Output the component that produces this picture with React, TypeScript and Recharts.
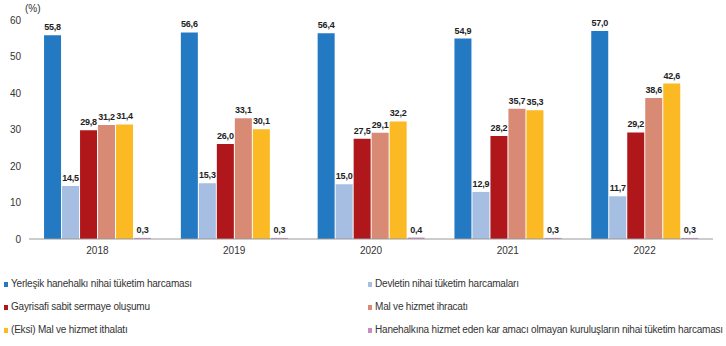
import { BarChart, Bar, XAxis, YAxis, CartesianGrid, LabelList } from "recharts";

const years = ["2018", "2019", "2020", "2021", "2022"];

const yerlesik = [55.8, 56.6, 56.4, 54.9, 57.0];
const devlet = [14.5, 15.3, 15.0, 12.9, 11.7];
const gayrisafi = [29.8, 26.0, 27.5, 28.2, 29.2];
const ihracat = [31.2, 33.1, 29.1, 35.7, 38.6];
const ithalat = [31.4, 30.1, 32.2, 35.3, 42.6];
const hanehalkina = [0.3, 0.3, 0.4, 0.3, 0.3];

const yTicks = [0, 10, 20, 30, 40, 50, 60];

const series = [
  { key: "yerlesik", name: "Yerleşik hanehalkı nihai tüketim harcaması", color: "#2479C3", values: yerlesik },
  { key: "devlet", name: "Devletin nihai tüketim harcamaları", color: "#A5BEE2", values: devlet },
  { key: "gayrisafi", name: "Gayrisafi sabit sermaye oluşumu", color: "#B0171B", values: gayrisafi },
  { key: "ihracat", name: "Mal ve hizmet ihracatı", color: "#D88A74", values: ihracat },
  { key: "ithalat", name: "(Eksi) Mal ve hizmet ithalatı", color: "#FBB923", values: ithalat },
  { key: "hanehalkina", name: "Hanehalkına hizmet eden kar amacı olmayan kuruluşların nihai tüketim harcaması", color: "#C98AC6", values: hanehalkina },
];

const data = years.map((year, i) => {
  const row: Record<string, string | number> = { year };
  series.forEach((s) => {
    row[s.key] = s.values[i];
  });
  return row;
});

const fmt = (v: any) => Number(v).toFixed(1).replace(".", ",");

// legend order: two columns, read row by row
const legendRows = [
  [series[0], series[1]],
  [series[2], series[3]],
  [series[4], series[5]],
];

export default function App() {
  const font = "'Liberation Sans', Arial, sans-serif";
  return (
    <div style={{ position: "absolute", left: 0, top: 0, width: 726, height: 346, background: "#fff", fontFamily: font }}>
      <span style={{ position: "absolute", left: 25, top: 3, fontSize: 10, color: "#333" }}>(%)</span>
      <BarChart
        width={726}
        height={265}
        data={data}
        margin={{ top: 20, right: 13, bottom: 0, left: 0 }}
        barCategoryGap="11%"
        barGap={1}
      >
        <CartesianGrid stroke="none" />
        <XAxis
          dataKey="year"
          height={26}
          tickLine={false}
          axisLine={{ stroke: "#999" }}
          tick={{ fontSize: 10, fill: "#333", fontFamily: font }}
        />
        <YAxis
          width={29}
          domain={[0, 60]}
          ticks={yTicks}
          tickLine={false}
          axisLine={false}
          tick={{ fontSize: 10, fill: "#333", fontFamily: font }}
        />
        {series.map((s) => (
          <Bar key={s.key} dataKey={s.key} name={s.name} fill={s.color} isAnimationActive={false}>
            <LabelList
              dataKey={s.key}
              position="top"
              offset={5}
              formatter={fmt}
              style={{ fontSize: 9, fontWeight: "bold", fill: "#222", fontFamily: font, letterSpacing: -0.2 }}
            />
          </Bar>
        ))}
      </BarChart>
      <div style={{ position: "absolute", left: 0, top: 276, width: 726 }}>
        {legendRows.map((row, ri) => (
          <div key={ri} style={{ position: "relative", height: 23 }}>
            {row.map((s, ci) => (
              <div
                key={s.key}
                style={{
                  position: "absolute",
                  left: ci === 0 ? 4 : 368,
                  top: 0,
                  display: "flex",
                  alignItems: "center",
                  fontSize: 10,
                  letterSpacing: -0.2,
                  color: "#333",
                  whiteSpace: "nowrap",
                  lineHeight: "16px",
                }}
              >
                <span style={{ width: 4, height: 5, background: s.color, marginRight: 3, display: "inline-block" }} />
                <span>{s.name}</span>
              </div>
            ))}
          </div>
        ))}
      </div>
    </div>
  );
}
